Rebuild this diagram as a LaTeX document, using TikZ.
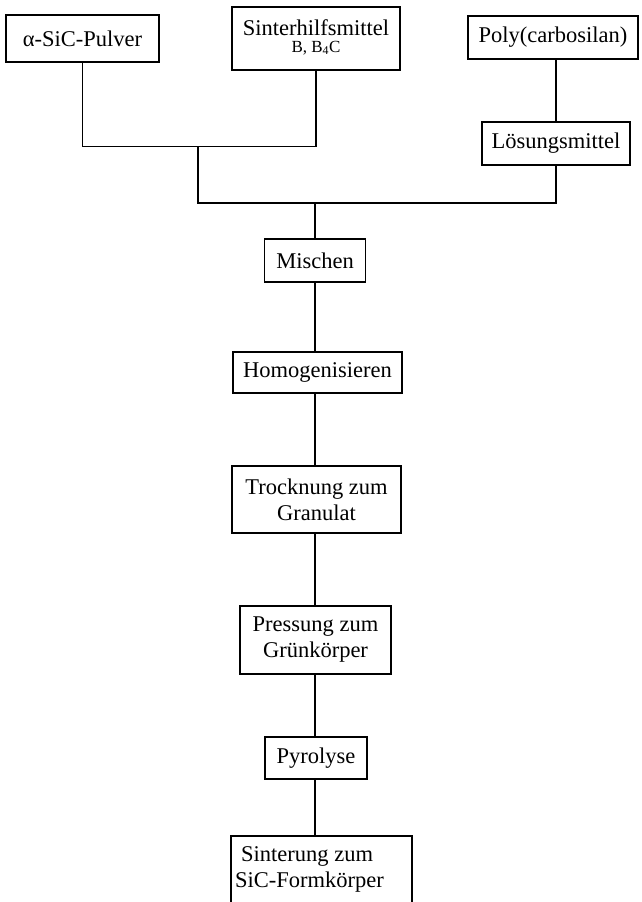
\documentclass[tikz,border=0pt]{standalone}
\usepackage{fontspec}
\setmainfont{Liberation Serif}
\begin{document}
\begin{tikzpicture}[x=1pt,y=-1pt,
  stepbox/.style={draw, line width=1.9pt, inner sep=0pt, align=center, font=\fontsize{22.5}{26}\selectfont},
  txt/.style={inner sep=0pt, align=center, font=\fontsize{22.5}{26}\selectfont},
  conn/.style={line width=1.9pt}]
\useasboundingbox (0,0) rectangle (642,902);
\clip (0,0) rectangle (642,902);
% top row
\node[stepbox, minimum width=153pt, minimum height=47pt] (a) at (82.5,38.5) {α-SiC-Pulver};
\node[stepbox, minimum width=168pt, minimum height=63pt] (sinter) at (316,38.5) {};
\node[txt] (sintertxt) at (316,28) {Sinterhilfsmittel};
\node[txt, font=\fontsize{17}{20}\selectfont] (sintersub) at (316,48) {B, B\textsubscript{4}C};
\node[stepbox, minimum width=170pt, minimum height=43pt] (poly) at (553,37.5) {Poly(carbosilan)};
\node[stepbox, minimum width=148pt, minimum height=43pt] (los) at (556,143.5) {Lösungsmittel};
% chain
\node[stepbox, minimum width=101pt, minimum height=43pt] (misch) at (315,260.5) {Mischen};
\node[stepbox, minimum width=169pt, minimum height=41pt] (homo) at (317.5,372.5) {Homogenisieren};
\node[stepbox, minimum width=169pt, minimum height=67pt] (trock) at (316.5,499.5) {Trocknung zum\\Granulat};
\node[stepbox, minimum width=151pt, minimum height=68pt] (press) at (315.5,640) {Pressung zum\\Grünkörper};
\node[stepbox, minimum width=102pt, minimum height=42pt] (pyro) at (316,758) {Pyrolyse};
\node[stepbox, minimum width=181pt, minimum height=90pt] (sinterung) at (321.5,881) {};
\node[txt, align=left, anchor=west] (sintxt) at (235,869.5) {\hspace*{6pt}Sinterung zum\\SiC-Formkörper};
% connectors
\coordinate (j1) at (198,146.5);
\coordinate (j2) at (198,203);
\coordinate (j3) at (315,203);
\draw[conn] (a.south) |- (sinter.south |- j1) -- (sinter.south);
\draw[conn] (j1) -- (j2) -| (los.south);
\draw[conn] (poly.south -| los.north) -- (los.north);
\draw[conn] (j3) -- (misch.north);
\draw[conn] (misch.south) -- (misch.south |- homo.north);
\draw[conn] (homo.south -| misch.south) -- (misch.south |- trock.north);
\draw[conn] (trock.south -| misch.south) -- (misch.south |- press.north);
\draw[conn] (press.south -| misch.south) -- (misch.south |- pyro.north);
\draw[conn] (pyro.south -| misch.south) -- (misch.south |- sinterung.north);
\end{tikzpicture}
\end{document}
